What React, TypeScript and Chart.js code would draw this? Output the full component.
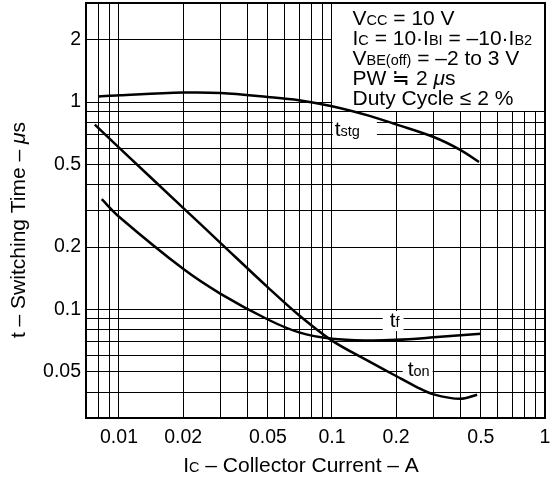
import { useEffect, useRef } from "react";
import { Chart, registerables } from "chart.js";

Chart.register(...registerables);

const FONT = '"Liberation Sans", Arial, Helvetica, sans-serif';

// Axis ranges
const X_MIN = 0.007;
const X_MAX = 1;
const Y_MIN = 0.03;
const Y_MAX = 3;

// Grid / tick values
const xGrid = [0.008, 0.009, 0.01, 0.02, 0.03, 0.04, 0.05, 0.06, 0.07, 0.08, 0.09, 0.1, 0.2, 0.3, 0.4, 0.5, 0.6, 0.7, 0.8, 0.9, 1];
const xLabeled = [0.01, 0.02, 0.05, 0.1, 0.2, 0.5, 1];
const yGrid = [0.04, 0.05, 0.06, 0.07, 0.08, 0.09, 0.1, 0.2, 0.3, 0.4, 0.5, 0.6, 0.7, 0.8, 0.9, 1, 2];
const yLabeled = [0.05, 0.1, 0.2, 0.5, 1, 2];

// Series: storage time
const tstgX = [0.008, 0.01, 0.02, 0.03, 0.05, 0.07, 0.1, 0.15, 0.2, 0.3, 0.4, 0.49];
const tstgY = [1.064, 1.078, 1.11, 1.105, 1.058, 1.02, 0.953, 0.857, 0.78, 0.678, 0.588, 0.514];

// Series: fall time
const tfX = [0.0083, 0.01, 0.02, 0.03, 0.05, 0.07, 0.1, 0.15, 0.2, 0.3, 0.5];
const tfY = [0.34, 0.28, 0.157, 0.119, 0.0895, 0.0776, 0.0723, 0.0709, 0.0714, 0.0734, 0.0764];

// Series: turn-on time
const tonX = [0.0077, 0.01, 0.02, 0.03, 0.05, 0.07, 0.1, 0.15, 0.2, 0.25, 0.3, 0.4, 0.48];
const tonY = [0.778, 0.603, 0.309, 0.209, 0.1278, 0.0938, 0.0708, 0.0561, 0.0478, 0.0423, 0.039, 0.0371, 0.0388];

// Conditions box corner (data coords) and curve label anchors (data coords)
const BOX_FROM_X = 0.1;
const BOX_TO_Y = 0.9;
const tstgLabelAt = { x: 0.103, y: 0.682 };
const tfLabelAt = { x: 0.1866, y: 0.0823 };
const tonLabelAt = { x: 0.2267, y: 0.0479 };

type Run = { t: string; size: number; italic?: boolean };

const BIG = 21;
const SUB = 14.5;

const boxLines: Run[][] = [
  [{ t: "V", size: BIG }, { t: "CC", size: SUB }, { t: " = 10 V", size: BIG }],
  [
    { t: "I", size: BIG }, { t: "C", size: SUB }, { t: " = 10·I", size: BIG }, { t: "BI", size: SUB },
    { t: " = –10·I", size: BIG }, { t: "B2", size: SUB },
  ],
  [{ t: "V", size: BIG }, { t: "BE(off)", size: SUB }, { t: " = –2 to 3 V", size: BIG }],
  [{ t: "PW ≒ 2 ", size: BIG }, { t: "μ", size: BIG, italic: true }, { t: "s", size: BIG }],
  [{ t: "Duty Cycle ≤ 2 %", size: BIG }],
];

const xTitle: Run[] = [
  { t: "I", size: BIG }, { t: "C", size: SUB }, { t: " – Collector Current – A", size: BIG },
];
const yTitle: Run[] = [
  { t: "t – Switching Time – ", size: BIG }, { t: "μ", size: BIG, italic: true }, { t: "s", size: BIG },
];

function setFont(ctx: CanvasRenderingContext2D, r: Run) {
  ctx.font = `${r.italic ? "italic " : ""}${r.size}px ${FONT}`;
}
function runsWidth(ctx: CanvasRenderingContext2D, runs: Run[]) {
  let w = 0;
  for (const r of runs) {
    setFont(ctx, r);
    w += ctx.measureText(r.t).width;
  }
  return w;
}
function drawRuns(ctx: CanvasRenderingContext2D, runs: Run[], x: number, y: number) {
  let cx = x;
  ctx.textAlign = "left";
  ctx.textBaseline = "alphabetic";
  for (const r of runs) {
    setFont(ctx, r);
    ctx.fillText(r.t, cx, y);
    cx += ctx.measureText(r.t).width;
  }
}

function alignPx(p: number) {
  return Math.round(p - 0.5) + 0.5;
}

const overlayPlugin = {
  id: "overlay",
  beforeDatasetsDraw(chart: any) {
    const { ctx, chartArea: ca, scales } = chart;
    const xs = scales.x;
    const ys = scales.y;
    ctx.save();
    // conditions box (white, bounded by 0.1 and 0.9 grid lines)
    const bx = alignPx(xs.getPixelForValue(BOX_FROM_X));
    const by = alignPx(ys.getPixelForValue(BOX_TO_Y));
    ctx.fillStyle = "#fff";
    ctx.fillRect(bx + 0.5, ca.top, ca.right - bx - 0.5, by - 0.5 - ca.top);
    ctx.fillStyle = "#000";
    const textLeft = bx + 21;
    const baselines = [ca.top + 21.5, ca.top + 41.5, ca.top + 61.5, ca.top + 82, ca.top + 102];
    boxLines.forEach((line, i) => drawRuns(ctx, line, textLeft, baselines[i]));

    // curve labels with white backgrounds
    const labels: { runs: Run[]; at: { x: number; y: number }; padL: number; padR: number }[] = [
      { runs: [{ t: "t", size: BIG }, { t: "stg", size: SUB }], at: tstgLabelAt, padL: 2, padR: 17 },
      { runs: [{ t: "t", size: BIG }, { t: "f", size: SUB }], at: tfLabelAt, padL: 7, padR: 4 },
      { runs: [{ t: "t", size: BIG }, { t: "on", size: SUB }], at: tonLabelAt, padL: 5, padR: 3 },
    ];
    for (const l of labels) {
      const lx = xs.getPixelForValue(l.at.x);
      const ly = ys.getPixelForValue(l.at.y);
      const w = runsWidth(ctx, l.runs);
      ctx.fillStyle = "#fff";
      ctx.fillRect(lx - l.padL, ly - 16, w + l.padL + l.padR, 20);
      ctx.fillStyle = "#000";
      drawRuns(ctx, l.runs, lx, ly);
    }
    ctx.restore();
  },
  afterDraw(chart: any) {
    const { ctx, chartArea: ca } = chart;
    ctx.save();
    ctx.strokeStyle = "#000";
    ctx.lineWidth = 2;
    ctx.strokeRect(ca.left, ca.top, ca.right - ca.left, ca.bottom - ca.top);
    ctx.fillStyle = "#000";
    // x title
    const wx = runsWidth(ctx, xTitle);
    drawRuns(ctx, xTitle, 301 - wx / 2, 471.5);
    // y title
    const wy = runsWidth(ctx, yTitle);
    ctx.translate(25, 230);
    ctx.rotate(-Math.PI / 2);
    drawRuns(ctx, yTitle, -wy / 2, 0);
    ctx.restore();
  },
};

function toPoints(xs: number[], ys: number[]) {
  return xs.map((x, i) => ({ x, y: ys[i] }));
}

export default function App() {
  const canvasRef = useRef<HTMLCanvasElement | null>(null);

  useEffect(() => {
    const canvas = canvasRef.current;
    if (!canvas) return;
    const lineStyle = {
      borderColor: "#000",
      borderWidth: 2.5,
      pointRadius: 0,
      fill: false,
      tension: 0.35,
    };
    const chart = new Chart(canvas, {
      type: "line",
      data: {
        datasets: [
          { label: "tstg", data: toPoints(tstgX, tstgY), ...lineStyle },
          { label: "tf", data: toPoints(tfX, tfY), ...lineStyle },
          { label: "ton", data: toPoints(tonX, tonY), ...lineStyle },
        ],
      },
      options: {
        animation: false,
        responsive: false,
        devicePixelRatio: 1,
        layout: { padding: { top: 3, right: 5, left: 0, bottom: 0 } },
        plugins: { legend: { display: false }, tooltip: { enabled: false } },
        scales: {
          x: {
            type: "logarithmic",
            min: X_MIN,
            max: X_MAX,
            afterBuildTicks: (s: any) => {
              s.ticks = xGrid.map((v) => ({ value: v }));
            },
            afterFit: (s: any) => {
              s.height = 63;
              s.paddingLeft = 0;
              s.paddingRight = 0;
              s.paddingTop = 0;
              s.paddingBottom = 0;
            },
            ticks: {
              autoSkip: false,
              maxRotation: 0,
              minRotation: 0,
              padding: 8,
              color: "#000",
              font: { family: FONT, size: 19.5 },
              callback: (v: any) => (xLabeled.includes(Number(v)) ? String(v) : ""),
            },
            grid: { color: "#000", lineWidth: 1, drawTicks: false },
            border: { display: false },
          },
          y: {
            type: "logarithmic",
            min: Y_MIN,
            max: Y_MAX,
            afterBuildTicks: (s: any) => {
              s.ticks = yGrid.map((v) => ({ value: v }));
            },
            afterFit: (s: any) => {
              s.width = 86;
              s.paddingLeft = 0;
              s.paddingRight = 0;
              s.paddingTop = 0;
              s.paddingBottom = 0;
            },
            ticks: {
              autoSkip: false,
              padding: 5,
              color: "#000",
              font: { family: FONT, size: 19.5 },
              callback: (v: any) => (yLabeled.includes(Number(v)) ? String(v) : ""),
            },
            grid: { color: "#000", lineWidth: 1, drawTicks: false },
            border: { display: false },
          },
        },
      },
      plugins: [overlayPlugin],
    });
    return () => chart.destroy();
  }, []);

  return (
    <div style={{ position: "absolute", left: 0, top: 0, width: 550, height: 481, background: "#fff" }}>
      <canvas ref={canvasRef} width={550} height={481} style={{ width: 550, height: 481 }} />
    </div>
  );
}
